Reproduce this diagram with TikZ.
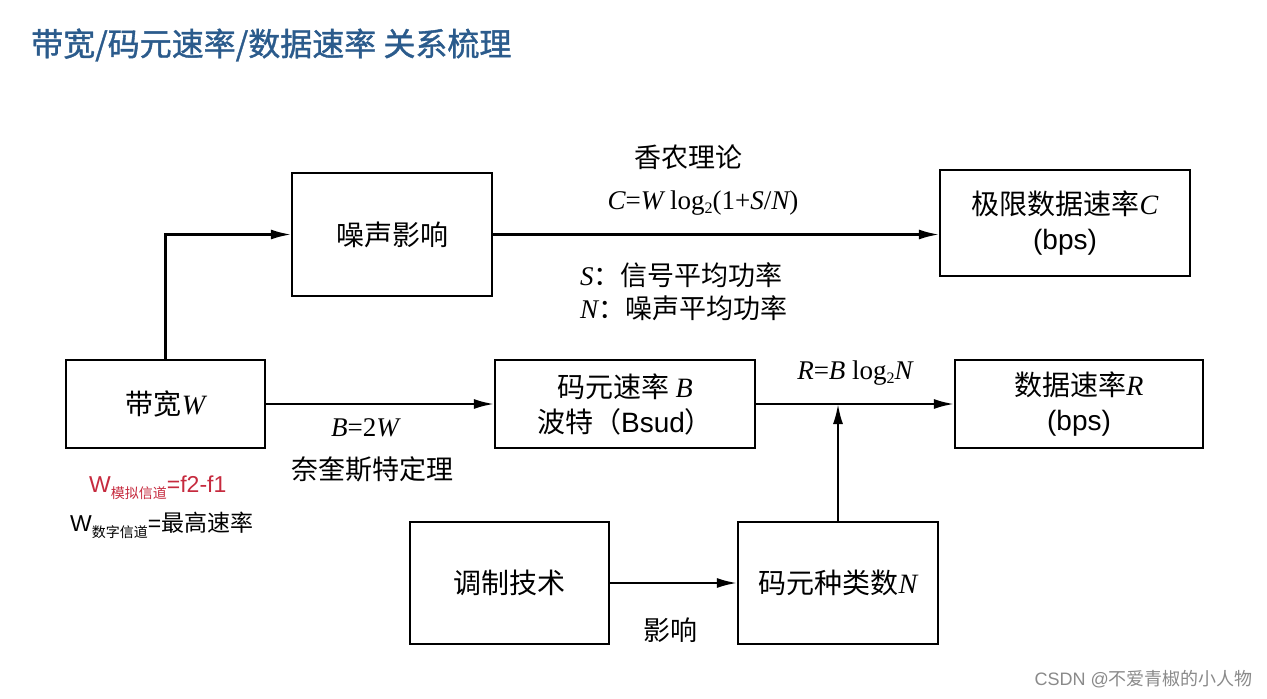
\documentclass[tikz,border=0pt]{standalone}
\usepackage{fontspec}
\setmainfont{Liberation Serif}
\newfontfamily\cjk{Noto Sans CJK SC}
\newfontfamily\cjkb[FakeBold=1.2]{Noto Sans CJK SC}
\newfontfamily\asans{Liberation Sans}
\usetikzlibrary{arrows.meta}
\definecolor{titleblue}{HTML}{2B5B8C}
\definecolor{legred}{HTML}{C62A3E}
\definecolor{wmgray}{HTML}{8A8A8A}
\newcommand{\lsub}[1]{\raisebox{-0.35ex}{\fontsize{16}{16}\selectfont #1}}
\newcommand{\mi}[1]{{\rmfamily\itshape #1}}
\begin{document}
\begin{tikzpicture}[x=1pt,y=-1pt,
  box/.style={draw,line width=2.2pt,inner sep=0pt,align=center,
    font=\fontsize{28}{35}\selectfont\cjk},
  arr/.style={line width=2.2pt,-{Latex[length=20pt,width=10pt]}},
  lab/.style={inner sep=0pt,font=\fontsize{27}{33}\selectfont\cjk},
  frm/.style={inner sep=0pt,font=\fontsize{27}{30}\selectfont}]
\useasboundingbox[fill=white] (0,0) rectangle (1267,699);
% title
\node[anchor=west,inner sep=0pt,text=titleblue,font=\fontsize{32}{38}\selectfont\cjkb] (title) at (31,45) {带宽/码元速率/数据速率 关系梳理};
% boxes
\node[box,minimum width=200pt,minimum height=123pt] (noise) at (392,234.5) {噪声影响};
\node[box,minimum width=250pt,minimum height=106pt] (cap) at (1065,223) {极限数据速率\mi{C}\\{\asans (bps)}};
\node[box,minimum width=199pt,minimum height=88pt] (bw) at (165.5,404) {带宽\mi{W}};
\node[box,minimum width=260pt,minimum height=88pt] (sym) at (625,404) {码元速率 \mi{B}\\波特（{\asans Bsud}）};
\node[box,minimum width=248pt,minimum height=88pt] (rate) at (1079,404) {数据速率\mi{R}\\{\asans (bps)}};
\node[box,minimum width=199pt,minimum height=122pt] (mod) at (509.5,583) {调制技术};
\node[box,minimum width=200pt,minimum height=122pt] (kinds) at (838,583) {码元种类数\mi{N}};
% connectors
\draw[arr] (bw.north) |- (noise.west);
\draw[arr] (noise.east) -- (noise.east -| cap.west);
\draw[arr] (bw.east) -- (sym.west);
\draw[arr] (sym.east) -- (rate.west);
\draw[arr] (kinds.north) -- (kinds.north |- sym.east);
\draw[arr] (mod.east) -- (kinds.west);
% labels
\node[lab] (shannon) at (688,157) {香农理论};
\node[frm] (cform) at (703,203) {\mi{C}=\mi{W} log\lsub{2}(1+\mi{S}/\mi{N})};
\node[lab,anchor=west] (sdef) at (580,275) {\mi{S}：信号平均功率};
\node[lab,anchor=west] (ndef) at (580,308) {\mi{N}：噪声平均功率};
\node[frm] (bform) at (365,428) {\mi{B}=2\mi{W}};
\node[lab] (nyq) at (372,469) {奈奎斯特定理};
\node[frm] (rform) at (855,373) {\mi{R}=\mi{B} log\lsub{2}\mi{N}};
\node[lab] (infl) at (670,630) {影响};
% legend
\node[anchor=west,inner sep=0pt,text=legred,font=\fontsize{23}{26}\selectfont\asans] (wa) at (89,488) {W\raisebox{-0.5ex}{\fontsize{14}{14}\selectfont\cjk 模拟信道}=f2-f1};
\node[anchor=west,inner sep=0pt,font=\fontsize{23}{26}\selectfont\asans] (wd) at (70,525) {W\raisebox{-0.5ex}{\fontsize{14}{14}\selectfont\cjk 数字信道}={\cjk 最高速率}};
% watermark
\node[anchor=east,inner sep=0pt,text=wmgray,font=\fontsize{18}{22}\selectfont\asans] (wm) at (1253,679) {CSDN @{\cjk 不爱青椒的小人物}};
\end{tikzpicture}
\end{document}
